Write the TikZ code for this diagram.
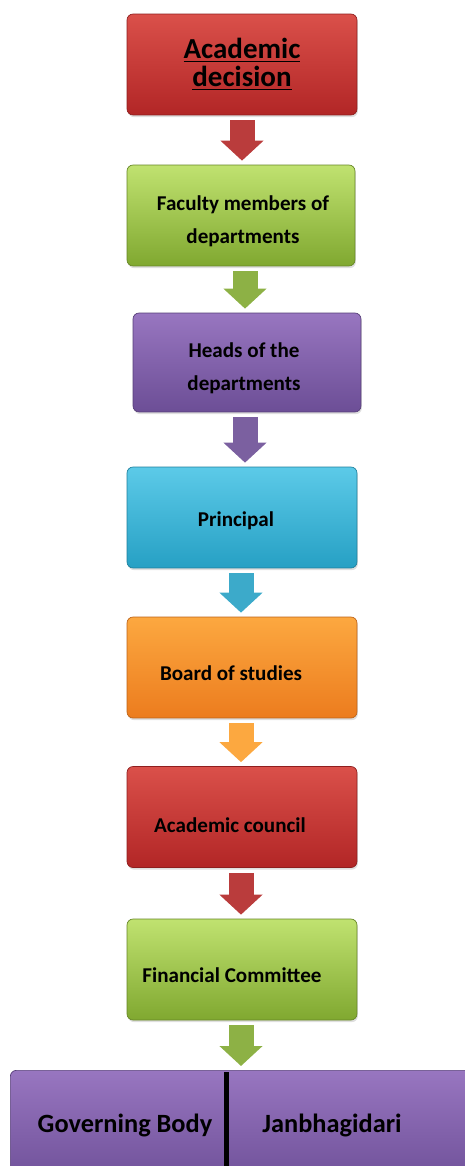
\documentclass[tikz,border=0pt]{standalone}
\usepackage{fontspec}
\setmainfont{Carlito}
\usetikzlibrary{positioning, arrows.meta, shadows}

\definecolor{redT}{RGB}{218,80,74}
\definecolor{redB}{RGB}{178,38,38}
\definecolor{greenT}{RGB}{192,226,112}
\definecolor{greenB}{RGB}{128,168,48}
\definecolor{purpleT}{RGB}{152,118,192}
\definecolor{purpleB}{RGB}{108,78,150}
\definecolor{cyanT}{RGB}{92,202,232}
\definecolor{cyanB}{RGB}{38,160,196}
\definecolor{orangeT}{RGB}{252,168,64}
\definecolor{orangeB}{RGB}{236,124,30}

\tikzset{
  stage/.style 2 args={draw=#2!80!black, line width=0.4pt, rounded corners=0.12cm,
    top color=#1, bottom color=#2, minimum width=4.6cm, minimum height=2.02cm,
    drop shadow={opacity=0.25, shadow xshift=0.5pt, shadow yshift=-1.2pt}, inner sep=0pt},
  flow/.style={line width=0.5cm, draw=#1, shorten <=0.1cm, shorten >=0.08cm,
    -{Triangle[width=0.84cm, length=0.4cm]}},
  txt/.style={font=\fontsize{12}{19}\selectfont\bfseries, align=center, inner sep=0pt},
  lbl/.style={font=\fontsize{15}{18}\selectfont\bfseries, inner sep=0pt}
}

\begin{document}
\begin{tikzpicture}[x=0.02cm, y=-0.02cm]
  \useasboundingbox (0,0) rectangle (465,1166);
  \clip (0,0) rectangle (465,1166);

  \node[stage={redT}{redB}] (dec) at (242,64.5) {};
  \node[stage={greenT}{greenB}, minimum width=4.56cm] (fac) at (241,215.5) {};
  \node[stage={purpleT}{purpleB}, minimum width=4.56cm, minimum height=1.98cm] (hod) at (247,362.5) {};
  \node[stage={cyanT}{cyanB}] (pri) at (242,517.5) {};
  \node[stage={orangeT}{orangeB}] (bos) at (242,667.5) {};
  \node[stage={redT}{redB}] (acc) at (242,817) {};
  \node[stage={greenT}{greenB}] (fin) at (242,969.5) {};

  \node[txt, font=\fontsize{16.5}{16}\selectfont\bfseries] (decT) at (242,64)
    {\underline{Academic}\\\underline{decision}};
  \node[txt] (facT) at (243,221.5) {Faculty members of\\departments};
  \node[txt] (hodT) at (244,368) {Heads of the\\departments};
  \node[txt] (priT) at (236,521) {Principal};
  \node[txt] (bosT) at (231,673) {Board of studies};
  \node[txt] (accT) at (230,825) {Academic council};
  \node[txt] (finT) at (232,975) {Financial Committee};

  % bottom body, runs off the page
  \node[stage={purpleT}{purpleB}, anchor=north west, minimum width=9.6cm,
    minimum height=2.4cm] (gbj) at (10,1070) {};
  \node[lbl] (gov) at (125,1125) {Governing Body};
  \node[lbl] (jan) at (332,1125) {Janbhagidari};
  \coordinate (divtop) at (226.5,1072);
  \coordinate (divbot) at (226.5,1170);
  \draw[line width=0.1cm] (divtop) -- (divbot);

  \draw[flow=redB!90] (dec.south) -- (fac.north -| dec.south);
  \draw[flow=greenB!90] (fac.south -| 245,0) -- (hod.north -| 245,0);
  \draw[flow=purpleB!90] (hod.south -| 245,0) -- (pri.north -| 245,0);
  \draw[flow=cyanB!90] (pri.south -| 241,0) -- (bos.north -| 241,0);
  \draw[flow=orangeT] (bos.south -| 241,0) -- (acc.north -| 241,0);
  \draw[flow=redB!90] (acc.south -| 241,0) -- (fin.north -| 241,0);
  \draw[flow=greenB!90] (fin.south -| 241,0) -- (gbj.north -| 241,0);
\end{tikzpicture}
\end{document}
